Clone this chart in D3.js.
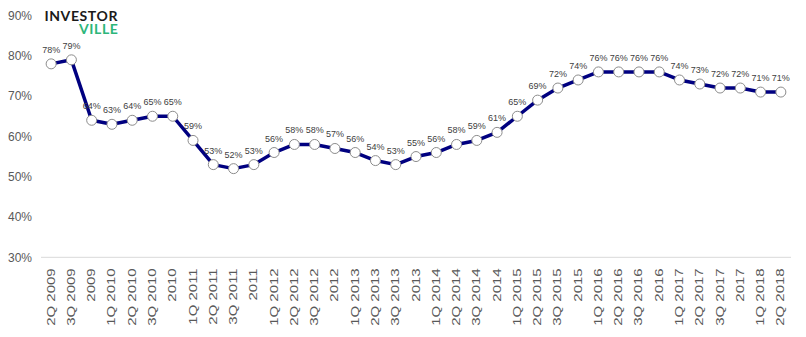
<!DOCTYPE html>
<html>
<head>
<meta charset="utf-8">
<script src="https://cdn.jsdelivr.net/npm/d3@7/dist/d3.min.js"></script>
<style>
  html, body { margin: 0; padding: 0; background: #fff; }
  svg { display: block; font-family: Arial, "Liberation Sans", sans-serif; }
</style>
</head>
<body>
<svg id="chart" width="806" height="337"></svg>
<script>
// Quarterly occupancy-style ratio, 2Q 2009 – 2Q 2018
const quarters = [
  "2Q 2009", "3Q 2009", "2009",
  "1Q 2010", "2Q 2010", "3Q 2010", "2010",
  "1Q 2011", "2Q 2011", "3Q 2011", "2011",
  "1Q 2012", "2Q 2012", "3Q 2012", "2012",
  "1Q 2013", "2Q 2013", "3Q 2013", "2013",
  "1Q 2014", "2Q 2014", "3Q 2014", "2014",
  "1Q 2015", "2Q 2015", "3Q 2015", "2015",
  "1Q 2016", "2Q 2016", "3Q 2016", "2016",
  "1Q 2017", "2Q 2017", "3Q 2017", "2017",
  "1Q 2018", "2Q 2018"
];
const ratioPct = [
  78, 79, 64,
  63, 64, 65, 65,
  59, 53, 52, 53,
  56, 58, 58, 57,
  56, 54, 53, 55,
  56, 58, 59, 61,
  65, 69, 72, 74,
  76, 76, 76, 76,
  74, 73, 72, 72,
  71, 71
];
const yTicks = [0.3, 0.4, 0.5, 0.6, 0.7, 0.8, 0.9];

const svg = d3.select("#chart");

const x = d3.scaleBand().domain(quarters).range([41, 791]).padding(0);
const y = d3.scaleLinear().domain([0.3, 0.9]).range([257.3, 15.5]);
const pct = d3.format(".0%");

// Baseline rule at the bottom of the value range
svg.append("line")
  .attr("x1", 41).attr("x2", 791)
  .attr("y1", y(0.3)).attr("y2", y(0.3))
  .attr("stroke", "#d9d9d9").attr("stroke-width", 1);

// Y axis labels
const yAxis = svg.append("g")
  .attr("transform", "translate(32,0)")
  .call(d3.axisLeft(y).tickValues(yTicks).tickFormat(pct).tickSize(0).tickPadding(0));
yAxis.select(".domain").remove();
yAxis.selectAll("text")
  .attr("fill", "#595959")
  .style("font-size", "12px")
  .style("font-family", "Arial, 'Liberation Sans', sans-serif");

// X axis labels, rotated and stretched along the reading direction
const xAxis = svg.append("g")
  .attr("transform", `translate(0,${y(0.3)})`)
  .call(d3.axisBottom(x).tickSize(0).tickPadding(0));
xAxis.select(".domain").remove();
xAxis.selectAll("text")
  .attr("y", 0).attr("x", 0).attr("dy", "0.35em")
  .attr("transform", "translate(0,11) rotate(-90) scale(1.5,1)")
  .attr("text-anchor", "end")
  .attr("fill", "#595959")
  .style("font-size", "10px")
  .style("font-family", "Arial, 'Liberation Sans', sans-serif");

const data = quarters.map((q, i) => ({ q, v: ratioPct[i] / 100 }));
const cx = d => x(d.q) + x.bandwidth() / 2;

// Series line
svg.append("path")
  .datum(data)
  .attr("fill", "none")
  .attr("stroke", "#000080")
  .attr("stroke-width", 3.5)
  .attr("stroke-linejoin", "round")
  .attr("d", d3.line().x(cx).y(d => y(d.v)));

// Point markers
svg.append("g").selectAll("circle")
  .data(data).join("circle")
  .attr("cx", cx).attr("cy", d => y(d.v))
  .attr("r", 5)
  .attr("fill", "#fff")
  .attr("stroke", "#8c8c8c")
  .attr("stroke-width", 1);

// Value labels
svg.append("g").selectAll("text")
  .data(data).join("text")
  .attr("x", cx).attr("y", d => y(d.v) - 11)
  .attr("text-anchor", "middle")
  .attr("fill", "#404040")
  .style("font-size", "9px")
  .text(d => pct(d.v));

// Brand mark: two stacked words in one text block
const logo = svg.append("text")
  .attr("text-anchor", "end")
  .style("font-family", "Lato, 'Open Sans', sans-serif")
  .style("font-weight", "bold")
  .style("font-size", "14px")
  .style("letter-spacing", "0.6px");
logo.append("tspan")
  .attr("x", 118).attr("y", 20.5)
  .attr("fill", "#1a1a1a")
  .text("INVESTOR");
logo.append("tspan")
  .attr("x", 118.5).attr("y", 33.5)
  .attr("fill", "#2db67a")
  .text("VILLE");
</script>
</body>
</html>
